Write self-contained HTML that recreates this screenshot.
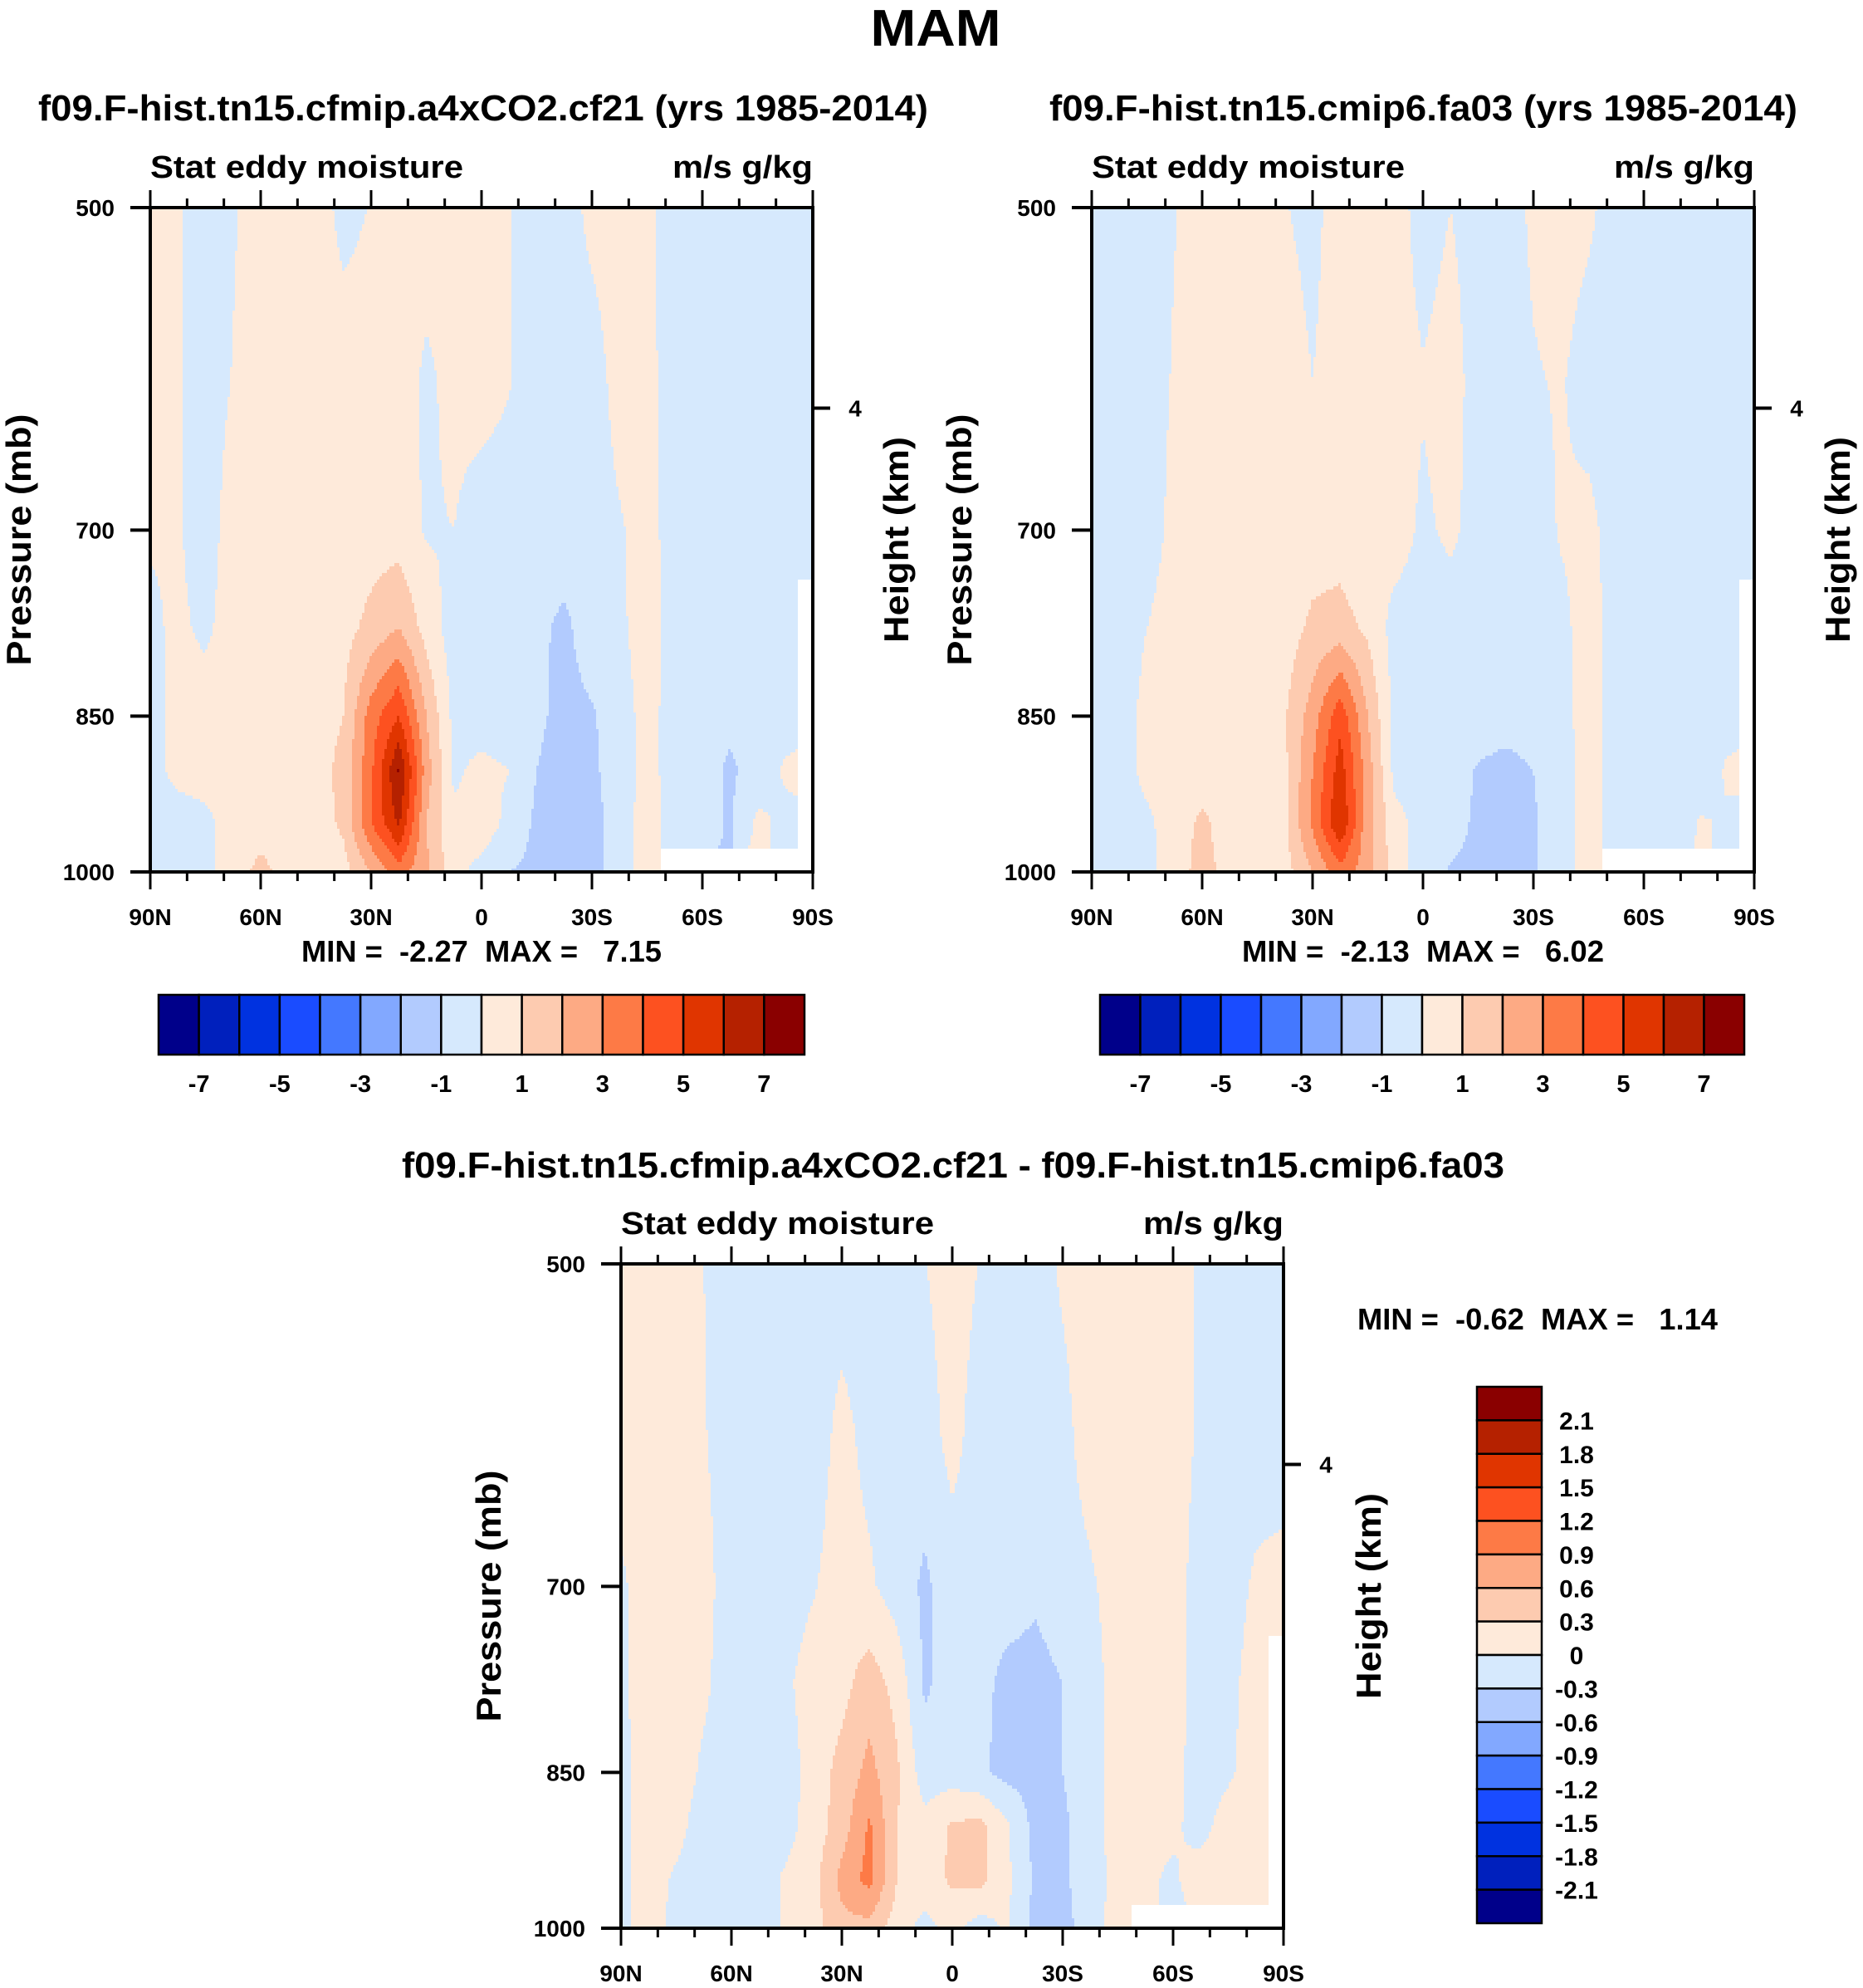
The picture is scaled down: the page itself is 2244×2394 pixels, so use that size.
<!DOCTYPE html>
<html><head><meta charset="utf-8"><title>MAM Stat eddy moisture</title>
<style>html,body{margin:0;padding:0;background:#fff}svg{display:block}text{font-family:"Liberation Sans",Arial,sans-serif;font-weight:bold;fill:#000;white-space:pre}</style>
</head><body>
<svg id="fig" xmlns="http://www.w3.org/2000/svg" width="2244" height="2394" viewBox="0 0 2244 2394" xml:space="preserve">
<rect x="0" y="0" width="2244" height="2394" fill="#fff"/>
<text x="1127" y="55" font-size="62" text-anchor="middle" textLength="157" lengthAdjust="spacingAndGlyphs">MAM</text>
</svg>
<script>
// ---------- shared scale data ----------
const latNodes = [90,82.5,75,67.5,60,52.5,45,37.5,30,22.5,15,7.5,0,-7.5,-15,-22.5,-30,-37.5,-45,-52.5,-60,-67.5,-75,-82.5,-90];
const presNodes = [500,600,700,775,850,900,950,1000];
const latTickVals = [90,60,30,0,-30,-60,-90];
const latTickLabels = ["90N","60N","30N","0","30S","60S","90S"];
const presTickVals = [500,700,850,1000];
const heightTickVals = [4];
const palette = ["#00008a","#0020bd","#0032e0","#1a4cff","#4478ff","#82a8ff","#b2cbfe","#d6e9fd","#feeada","#fdcbb0","#fdaa84","#fd7a46","#fd5120","#e03500","#b52100","#8a0000"];
const cbLabelsA = ["-7","-5","-3","-1","1","3","5","7"];
const cbLabelsC = ["2.1","1.8","1.5","1.2","0.9","0.6","0.3","0","-0.3","-0.6","-0.9","-1.2","-1.5","-1.8","-2.1"];

// ---------- panel A: cfmip.a4xCO2.cf21 ----------
const a4x_500 = [.5,.1,-.5,-.1,.5,.5,.5,-.3,.05,.5,.5,.5,.3,.05,-.5,-.5,.3,.5,.2,-.5,-.5,-.5,-.5,-.5,-.5];
const a4x_600 = [.5,.1,-.5,.05,.5,.5,.5,.5,.5,.5,-.2,.3,.4,.05,-.5,-.5,-.5,.4,.3,-.5,-.5,-.5,-.5,-.5,-.5];
const a4x_700 = [.1,.1,-.5,.5,.5,.5,.5,.5,.5,.5,-.1,0,-.5,-.5,-.5,-.5,-.5,-.1,.4,-.5,-.5,-.5,-.5,-.5,-.5];
const a4x_775 = [-.2,.2,-.2,.5,.5,.5,.5,.6,1.3,2.0,.6,-.5,-.5,-.5,-.8,-1.2,-.5,-.2,.5,-.5,-.5,-.5,-.5,-.5,null];
const a4x_850 = [-.3,.3,.5,.5,.5,.5,.5,1.0,3.5,5.0,2.0,-.3,-.5,-.6,-.8,-1.3,-1.1,-.5,.4,-.5,-.5,-.7,-.5,-.3,null];
const a4x_900 = [-.4,.3,.5,.5,.5,.5,.6,1.3,3.8,7.1,2.5,-.2,.3,0,-1.0,-1.5,-1.2,-.5,.4,-.5,-.5,-1.2,-.5,.1,null];
const a4x_950 = [-.5,-.5,-.3,.5,.5,.5,.5,1.2,4.0,6.2,2.0,.2,.6,-.3,-1.2,-2.0,-1.3,-.6,.5,-.5,-.6,-1.1,.2,-.2,null];
const a4x_1000 = [-.5,-.5,-.3,.5,1.3,.6,.5,.6,2.0,3.5,2.2,.3,-.3,-1.0,-1.2,-1.8,-1.3,-.5,.5,null,null,null,null,null,null];

// ---------- panel B: cmip6.fa03 ----------
const fa03_500 = [-.5,-.5,-.5,-.05,.5,.5,.5,.05,-.3,.5,.5,.5,-.5,0,-.5,-.5,.2,.5,.2,-.5,-.5,-.5,-.5,-.5,-.5];
const fa03_600 = [-.5,-.5,-.5,.1,.5,.5,.5,.5,0,.5,.5,.5,.1,.5,-.5,-.5,-.1,.1,-.5,-.5,-.5,-.5,-.5,-.5,-.5];
const fa03_700 = [-.5,-.5,-.5,.3,.5,.5,.5,.5,.5,.5,.1,.5,-.2,.2,-.4,-.5,-.5,.1,.3,-.5,-.5,-.5,-.5,-.5,-.5];
const fa03_775 = [-.5,-.5,0,.5,.5,.5,.5,.5,1.2,1.4,.8,-.4,-.5,-.5,-.5,-.5,-.5,-.3,.5,-.5,-.5,-.5,-.5,-.5,null];
const fa03_850 = [0,-.5,.3,.5,.5,.5,.5,.9,2.5,4.7,2.0,-.4,-.5,-.5,-.5,-.6,-.6,-.4,.5,-.5,-.5,-.5,-.7,-.3,null];
const fa03_900 = [-.2,-.5,.3,.5,.5,.5,.5,.8,3.0,5.5,2.5,-.4,-.5,-.5,-1.1,-1.3,-1.0,-.5,.5,-.5,-.5,-.9,-.6,.1,null];
const fa03_950 = [-.5,-.5,-.2,.5,1.2,.5,.5,.8,3.2,6.05,2.3,.4,-.5,-.6,-1.2,-1.3,-1.1,-.5,.5,-.5,-.5,-1.0,.1,-.1,null];
const fa03_1000 = [-.5,-.5,-.3,.5,1.4,.6,.5,.6,2.0,3.6,2.4,.4,-.5,-1.1,-1.2,-1.2,-1.1,-.5,.5,null,null,null,null,null,null];

// ---------- panel C: difference ----------
const diff_500 = [.15,.15,.15,0,-.15,-.15,-.15,-.15,-.15,-.15,-.15,-.01,.15,-.01,-.15,-.15,.05,.15,.15,.15,.15,-.05,-.15,-.15,-.15];
const diff_600 = [.15,.15,.15,.02,-.15,-.15,-.15,-.15,.1,-.1,-.15,-.15,.1,-.15,-.15,-.15,-.1,.15,.15,.15,.15,-.05,-.15,-.15,-.15];
const diff_700 = [-.05,.15,.15,.1,-.15,-.15,-.15,-.02,.15,.05,-.15,-.35,-.15,-.15,-.15,-.25,-.15,-.05,.15,.15,.15,-.15,-.15,.05,.1];
const diff_775 = [-.05,.15,.15,.05,-.15,-.15,-.05,.15,.2,.45,.2,-.35,-.15,-.2,-.4,-.4,-.3,-.15,.15,.15,.15,-.15,-.1,.15,null];
const diff_850 = [-.1,.15,.15,-.05,-.15,-.15,-.15,.15,.4,.7,.35,-.15,-.15,-.25,-.4,-.4,-.3,-.15,.15,.15,.1,-.15,-.05,.15,null];
const diff_900 = [-.1,.15,.1,-.15,-.15,-.15,-.1,.15,.45,.95,.3,.1,.35,.4,.05,-.4,-.35,-.15,.15,.1,.05,-.1,.15,.15,null];
const diff_950 = [-.1,.15,-.05,-.15,-.15,-.15,.05,.2,.7,1.0,.3,.15,.35,.4,.05,-.35,-.35,-.15,.1,.05,-.05,.15,.1,.1,null];
const diff_1000 = [-.1,.15,-.1,-.15,-.15,-.15,.05,.2,.5,.5,.15,-.1,.1,-.15,.05,-.4,-.4,-.15,.15,null,null,null,null,null,null];

const NS = "http://www.w3.org/2000/svg";
const svg = document.getElementById('fig');
function mk(tag, attrs, parent){const e=document.createElementNS(NS,tag);for(const k in attrs)e.setAttribute(k,attrs[k]);(parent||svg).appendChild(e);return e;}
function txt(s, attrs, parent){const e=mk('text',attrs,parent);e.textContent=s;return e;}

function drawPanel(cfg){
  const g = mk('g',{});
  
  
  const x0=cfg.x0,y0=cfg.y0,W=798,H=800,x1=x0+W,y1=y0+H;
  const xOf = lat => x0 + (90-lat)/180*W;
  const yOf = p => y0 + Math.log(p/500)/Math.LN2*H;
  const latAt = x => 90 - (x-x0)/W*180;
  const lpAt = y => Math.log(500) + (y-y0)/H*Math.LN2;
  const grid = cfg.rows;
  const lpN = presNodes.map(p=>Math.log(p));
  function val(x,y){
    const lat=latAt(x), lp=lpAt(y);
    let fi=(90-lat)/7.5; fi=Math.max(0,Math.min(latNodes.length-1.0001,fi));
    const i=Math.floor(fi), tx=fi-i;
    let j=0; while(j<lpN.length-2 && lp>lpN[j+1]) j++;
    let ty=(lp-lpN[j])/(lpN[j+1]-lpN[j]); ty=Math.max(0,Math.min(1,ty));
    const ni=tx<0.5?i:i+1, nj=ty<0.5?j:j+1;
    const near=grid[nj][ni];
    if(near===null) return null;
    const c=[grid[j][i],grid[j][i+1],grid[j+1][i],grid[j+1][i+1]].map(v=>v===null?near:v);
    return (c[0]*(1-tx)+c[1]*tx)*(1-ty)+(c[2]*(1-tx)+c[3]*tx)*ty;
  }
  function bin(v){let b=Math.floor((v-cfg.lo)/cfg.step)+1;return Math.max(0,Math.min(15,b));}
  const field = mk('g',{'shape-rendering':'crispEdges'},g);
  
  
  const DX=3, DY=4;
  for(let yy=y0; yy<y1; yy+=DY){
    let runStart=x0, runCol=null;
    for(let xx=x0; xx<=x1; xx+=DX){
      let col;
      if(xx>=x1) col='__end';
      else {const v=val(xx+DX/2, yy+DY/2); col = v===null?'#ffffff':palette[bin(v)];}
      if(col!==runCol){
        if(runCol!==null){
          const r=mk('rect',{x:runStart,y:yy,width:Math.min(xx,x1)-runStart+0.6,height:DY+0.6,fill:runCol},field);
          
          
        }
        runStart=xx; runCol=col;
      }
    }
  }
  const fr=mk('rect',{x:x0,y:y0,width:W,height:H,fill:'none',stroke:'#000','stroke-width':4},g);
  
  
  for(let lat=90; lat>=-90; lat-=10){
    const major = lat%30===0, L=major?21:11, x=xOf(lat);
    const t1=mk('line',{x1:x,y1:y0,x2:x,y2:y0-L,stroke:'#000','stroke-width':3},g);
    
    
    const t2=mk('line',{x1:x,y1:y1,x2:x,y2:y1+L,stroke:'#000','stroke-width':3},g);
    
    
  }
  latTickVals.forEach((lat,k)=>{
    const t=txt(latTickLabels[k],{x:xOf(lat),y:y1+64,'font-size':28,'text-anchor':'middle'},g);
    
    
  });
  presTickVals.forEach(p=>{
    const y=yOf(p);
    const l=mk('line',{x1:x0-24,y1:y,x2:x0,y2:y,stroke:'#000','stroke-width':4},g);
    
    
    const t=txt(String(p),{x:x0-43,y:y+10,'font-size':28,'text-anchor':'end'},g);
    
    
  });
  heightTickVals.forEach(hk=>{
    const p=1013.25*Math.pow(1-2.25577e-5*hk*1000,5.25588);
    const y=yOf(p);
    const l=mk('line',{x1:x1,y1:y,x2:x1+21,y2:y,stroke:'#000','stroke-width':4},g);
    
    
    const t=txt(String(hk),{x:x1+51,y:y+10,'font-size':28,'text-anchor':'middle'},g);
    
    
  });
  let t=txt('Stat eddy moisture',{x:x0,y:y0-36,'font-size':38,textLength:377,lengthAdjust:'spacingAndGlyphs'},g);
  
  
  t=txt('m/s g/kg',{x:x1,y:y0-36,'font-size':38,'text-anchor':'end',textLength:169,lengthAdjust:'spacingAndGlyphs'},g);
  
  
  const pxl=cfg.pLabelX, pyc=y0+400;
  t=txt('Pressure (mb)',{x:pxl,y:pyc,'font-size':42,'text-anchor':'middle',transform:`rotate(-90 ${pxl} ${pyc})`,dy:14,textLength:303,lengthAdjust:'spacingAndGlyphs'},g);
  
  
  const hxl=cfg.hLabelX;
  t=txt('Height (km)',{x:hxl,y:pyc,'font-size':42,'text-anchor':'middle',transform:`rotate(-90 ${hxl} ${pyc})`,dy:14,textLength:248,lengthAdjust:'spacingAndGlyphs'},g);
  
  
  return g;
}

function hColorbar(x0,y0,W,name){
  const g=mk('g',{});
  
  
  const bw=W/16;
  palette.forEach((c,k)=>{
    const r=mk('rect',{x:x0+k*bw,y:y0,width:bw,height:72,fill:c,stroke:'#000','stroke-width':2.5},g);
    
    
  });
  cbLabelsA.forEach((s,k)=>{
    const t=txt(s,{x:x0+(2*k+1)*bw,y:y0+117,'font-size':29,'text-anchor':'middle'},g);
    
    
  });
}

drawPanel({name:'panel-a4xco2',x0:181,y0:250,rows:[a4x_500,a4x_600,a4x_700,a4x_775,a4x_850,a4x_900,a4x_950,a4x_1000],lo:-7,step:1,pLabelX:23,hLabelX:1080});
drawPanel({name:'panel-cmip6',x0:1315,y0:250,rows:[fa03_500,fa03_600,fa03_700,fa03_775,fa03_850,fa03_900,fa03_950,fa03_1000],lo:-7,step:1,pLabelX:1156,hLabelX:2214});
drawPanel({name:'panel-difference',x0:748,y0:1522,rows:[diff_500,diff_600,diff_700,diff_775,diff_850,diff_900,diff_950,diff_1000],lo:-2.1,step:0.3,pLabelX:589,hLabelX:1649});

hColorbar(191,1198,778,'colorbar-a4xco2');
hColorbar(1325,1198,776,'colorbar-cmip6');

(function(){
  const g=mk('g',{});
  
  
  const x0=1779,y0=1670,W=78,bh=(2316-1670)/16;
  for(let k=0;k<16;k++){
    const r=mk('rect',{x:x0,y:y0+k*bh,width:W,height:bh,fill:palette[15-k],stroke:'#000','stroke-width':2.5},g);
    
    
  }
  cbLabelsC.forEach((s,k)=>{
    const t=txt(s,{x:1899,y:y0+(k+1)*bh+11,'font-size':30,'text-anchor':'middle'},g);
    
    
  });
})();

function title(s,x,y,size,len,name,anchor){
  const t=txt(s,{x:x,y:y,'font-size':size,textLength:len,lengthAdjust:'spacingAndGlyphs','text-anchor':anchor||'start'});
  
  
}
title('f09.F-hist.tn15.cfmip.a4xCO2.cf21 (yrs 1985-2014)',46,145,44,1072,'panel-a-title');
title('f09.F-hist.tn15.cmip6.fa03 (yrs 1985-2014)',1264,145,44,901,'panel-b-title');
title('f09.F-hist.tn15.cfmip.a4xCO2.cf21 - f09.F-hist.tn15.cmip6.fa03',484,1418,44,1328,'panel-c-title');
title('MIN =  -2.27  MAX =   7.15',363,1158,36,434,'panel-a-minmax');
title('MIN =  -2.13  MAX =   6.02',1496,1158,36,436,'panel-b-minmax');
title('MIN =  -0.62  MAX =   1.14',1635,1601,36,434,'panel-c-minmax');
</script>
</body></html>
